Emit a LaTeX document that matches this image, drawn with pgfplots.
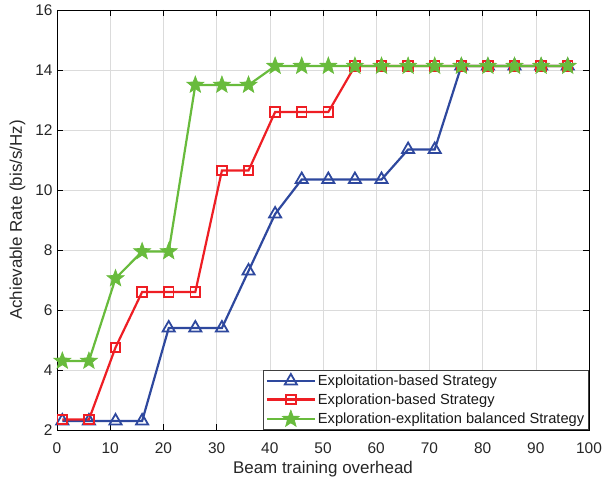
\documentclass[border=0pt]{standalone}
\usepackage{pgfplots}
\pgfplotsset{compat=1.18}
\usepackage{fontspec}
\setmainfont{Liberation Sans}
\definecolor{cblue}{RGB}{46,72,158}
\definecolor{cred}{RGB}{238,30,36}
\definecolor{cgreen}{RGB}{104,187,60}
\pgfdeclareplotmark{fstar}{%
  \pgfpathmoveto{\pgfqpointpolar{90}{\pgfplotmarksize}}%
  \pgfpathlineto{\pgfqpointpolar{126}{0.42\pgfplotmarksize}}%
  \pgfpathlineto{\pgfqpointpolar{162}{\pgfplotmarksize}}%
  \pgfpathlineto{\pgfqpointpolar{198}{0.42\pgfplotmarksize}}%
  \pgfpathlineto{\pgfqpointpolar{234}{\pgfplotmarksize}}%
  \pgfpathlineto{\pgfqpointpolar{270}{0.42\pgfplotmarksize}}%
  \pgfpathlineto{\pgfqpointpolar{306}{\pgfplotmarksize}}%
  \pgfpathlineto{\pgfqpointpolar{342}{0.42\pgfplotmarksize}}%
  \pgfpathlineto{\pgfqpointpolar{18}{\pgfplotmarksize}}%
  \pgfpathlineto{\pgfqpointpolar{54}{0.42\pgfplotmarksize}}%
  \pgfpathclose
  \pgfusepathqfillstroke}
\pgfplotstableread{
x b r g
1 2.30 2.35 4.30
6 2.30 2.35 4.30
11 2.30 4.75 7.05
16 2.30 6.60 7.95
21 5.40 6.60 7.95
26 5.40 6.60 13.50
31 5.40 10.65 13.50
36 7.30 10.65 13.50
41 9.20 12.60 14.13
46 10.35 12.60 14.13
51 10.35 12.60 14.13
56 10.35 14.13 14.13
61 10.35 14.13 14.13
66 11.35 14.13 14.13
71 11.35 14.13 14.13
76 14.13 14.13 14.13
81 14.13 14.13 14.13
86 14.13 14.13 14.13
91 14.13 14.13 14.13
96 14.13 14.13 14.13
}\datatable
\begin{document}
\begin{tikzpicture}
\useasboundingbox (0,0) rectangle (603bp,480bp);
\begin{axis}[
  at={(57bp,50bp)}, anchor=south west,
  scale only axis,
  width=532bp, height=420bp,
  xmin=0, xmax=100, ymin=2, ymax=16,
  xtick={0,10,...,100}, ytick={2,4,...,16},
  grid=major,
  major grid style={draw=black!14, line width=0.6pt},
  tick align=inside,
  major tick length=6bp,
  axis line style={black, line width=0.7pt},
  tick style={black, line width=0.6pt},
  /pgf/number format/assume math mode=true,
  ticklabel style={font=\fontsize{15.5}{17}\selectfont, color=black!85},
  xticklabel style={yshift=-9bp},
  yticklabel style={xshift=-1bp},
  xlabel={Beam training overhead},
  ylabel={Achievable Rate (bis/s/Hz)},
  label style={font=\fontsize{17}{19}\selectfont, color=black!85},
  xlabel style={yshift=-1bp},
  ylabel style={yshift=3bp},
  legend style={at={(1,0)}, anchor=south east, font=\fontsize{14.7}{17}\selectfont,
    draw=black!75, line width=0.7pt, row sep=2.5pt, inner sep=2.5pt,
    text=black!90},
  legend cell align=left,
  legend image code/.code={%
    \draw[mark repeat=2,mark phase=2] plot coordinates {(0bp,0bp) (24bp,0bp) (48bp,0bp)};},
  every axis plot/.append style={line width=2.2pt},
]
\addplot[color=cblue, mark=triangle, mark size=7bp, mark options={line width=1.8pt, fill=none}] table[x=x,y=b]{\datatable};
\addlegendentry{Exploitation-based Strategy}
\addplot[color=cred, mark=square, mark size=4.8bp, mark options={line width=1.8pt, fill=none}] table[x=x,y=r]{\datatable};
\addlegendentry{Exploration-based Strategy}
\addplot[color=cgreen, mark=fstar, mark size=9bp, mark options={line width=0.6pt, fill=cgreen}] table[x=x,y=g]{\datatable};
\addlegendentry{Exploration-explitation balanced Strategy}
\end{axis}
\end{tikzpicture}
\end{document}
